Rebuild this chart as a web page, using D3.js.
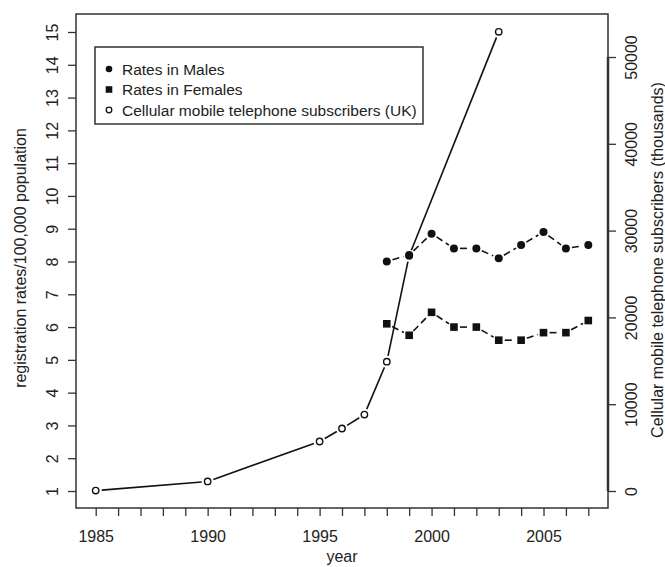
<!DOCTYPE html>
<html lang="en">
  <head>
    <meta charset="utf-8">
    <title>Registration rates and mobile subscribers</title>
    <script src="https://cdn.jsdelivr.net/npm/d3@7"></script>
    <style>
      body { margin: 0; background: #fff; }
      text { font-family: "Liberation Sans", Arial, sans-serif; fill: #222; }
    </style>
  </head>
  <body>
    <script>
      var w = 665;
      var h = 567;

      // data (1999 subscriber point sits under the males marker)
      var subYears = [1985, 1990, 1995, 1996, 1997, 1998, 1999, 2003];
      var subscribers = [50, 1100, 5700, 7200, 8800, 14900, 27100, 52900];
      var rateYears = [1998, 1999, 2000, 2001, 2002, 2003, 2004, 2005, 2006, 2007];
      var males = [8.0, 8.2, 8.85, 8.4, 8.4, 8.1, 8.5, 8.9, 8.4, 8.5];
      var females = [6.1, 5.75, 6.45, 6.0, 6.0, 5.6, 5.6, 5.83, 5.83, 6.2];

      var yearTicks = d3.range(1985, 2008);
      var yearLabels = [1985, 1990, 1995, 2000, 2005];
      var leftTicks = d3.range(1, 16);
      var rightTicks = [0, 10000, 20000, 30000, 40000, 50000];
      var legendLabels = ["Rates in Males", "Rates in Females", "Cellular mobile telephone subscribers (UK)"];

      var frame = { left: 76, right: 608, top: 14, bottom: 508 };
      var ink = "#333";

      var xScale = d3.scaleLinear().domain([1984.12, 2007.88]).range([frame.left, frame.right]);
      var yScale = d3.scaleLinear().domain([1, 15]).range([491, 32]);
      var y2Scale = d3.scaleLinear().domain([0, 50000]).range([491, 57]);

      var svg = d3.select("body").append("svg")
                  .attr("width", w)
                  .attr("height", h);

      // frame
      svg.append("rect")
         .attr("x", frame.left).attr("y", frame.top)
         .attr("width", frame.right - frame.left)
         .attr("height", frame.bottom - frame.top)
         .attr("fill", "none")
         .attr("stroke", ink)
         .attr("stroke-width", 1.5);

      // bottom axis
      var xAxis = d3.axisBottom(xScale)
                    .tickValues(yearTicks)
                    .tickSize(8)
                    .tickSizeOuter(0)
                    .tickFormat(function (d) { return yearLabels.indexOf(d) >= 0 ? d : ""; });
      var gx = svg.append("g")
         .attr("transform", "translate(0," + frame.bottom + ")")
         .call(xAxis);
      gx.select(".domain").remove();
      gx.selectAll("line").attr("stroke", ink).attr("stroke-width", 1.3);
      gx.selectAll("text").attr("font-size", "16px").attr("dy", null).attr("y", 34);

      // left axis
      var yAxis = d3.axisLeft(yScale).tickValues(leftTicks).tickSize(8).tickSizeOuter(0);
      var gy = svg.append("g")
         .attr("transform", "translate(" + frame.left + ",0)")
         .call(yAxis);
      gy.select(".domain").remove();
      gy.selectAll("line").attr("stroke", ink).attr("stroke-width", 1.3);
      gy.selectAll("text")
        .attr("font-size", "16px")
        .attr("x", null).attr("dy", null)
        .attr("text-anchor", "middle")
        .attr("transform", "translate(-24,0) rotate(-90)")
        .attr("dominant-baseline", "central");

      // right axis
      var y2Axis = d3.axisRight(y2Scale)
                     .tickValues(rightTicks)
                     .tickSize(8)
                     .tickSizeOuter(0)
                     .tickFormat(d3.format("d"));
      var gy2 = svg.append("g")
         .attr("transform", "translate(" + frame.right + ",0)")
         .call(y2Axis);
      gy2.select(".domain").remove();
      gy2.append("line")
         .attr("y1", y2Scale(0)).attr("y2", y2Scale(50000))
         .attr("stroke", ink).attr("stroke-width", 2.5);
      gy2.selectAll("line").attr("stroke", ink);
      gy2.selectAll(".tick line").attr("stroke-width", 1.3);
      gy2.selectAll("text")
        .attr("font-size", "16px")
        .attr("x", null).attr("dy", null)
        .attr("text-anchor", "middle")
        .attr("transform", "translate(23,0) rotate(-90)")
        .attr("dominant-baseline", "central");

      // axis titles
      svg.append("text")
         .attr("x", (frame.left + frame.right) / 2).attr("y", 562)
         .attr("text-anchor", "middle").attr("font-size", "16px")
         .text("year");
      svg.append("text")
         .attr("transform", "translate(20,258) rotate(-90)")
         .attr("text-anchor", "middle").attr("dominant-baseline", "central")
         .attr("font-size", "16px")
         .text("registration rates/100,000 population");
      svg.append("text")
         .attr("transform", "translate(657,260) rotate(-90)")
         .attr("text-anchor", "middle").attr("dominant-baseline", "central")
         .attr("font-size", "16px")
         .text("Cellular mobile telephone subscribers (thousands)");

      // lines drawn R "type b" style: segments that stop short of the points
      var gap = 6;
      var drawSegments = function (xs, ys, yS, dash) {
        var pts = xs.map(function (d, i) { return [xScale(d), yS(ys[i])]; });
        var segs = [];
        for (var i = 0; i < pts.length - 1; i++) {
          var a = pts[i], b = pts[i + 1];
          var dx = b[0] - a[0], dy = b[1] - a[1];
          var len = Math.sqrt(dx * dx + dy * dy);
          if (len <= 2 * gap) continue;
          var ux = dx / len, uy = dy / len;
          segs.push([a[0] + ux * gap, a[1] + uy * gap, b[0] - ux * gap, b[1] - uy * gap]);
        }
        svg.append("g").selectAll("line")
           .data(segs)
           .enter()
           .append("line")
           .attr("x1", function (d) { return d[0]; })
           .attr("y1", function (d) { return d[1]; })
           .attr("x2", function (d) { return d[2]; })
           .attr("y2", function (d) { return d[3]; })
           .attr("stroke", "#111")
           .attr("stroke-width", 1.6)
           .attr("stroke-dasharray", dash);
      };

      drawSegments(subYears, subscribers, y2Scale, null);
      drawSegments(rateYears, males, yScale, "7,4");
      drawSegments(rateYears, females, yScale, "7,4");

      // points
      svg.append("g").selectAll("circle")
         .data(subYears)
         .enter()
         .append("circle")
         .attr("cx", function (d) { return xScale(d); })
         .attr("cy", function (d, i) { return y2Scale(subscribers[i]); })
         .attr("r", 3.2)
         .attr("fill", "#fff")
         .attr("stroke", "#111")
         .attr("stroke-width", 1.4);

      svg.append("g").selectAll("circle")
         .data(rateYears)
         .enter()
         .append("circle")
         .attr("cx", function (d) { return xScale(d); })
         .attr("cy", function (d, i) { return yScale(males[i]); })
         .attr("r", 4)
         .attr("fill", "#111");

      svg.append("g").selectAll("rect")
         .data(rateYears)
         .enter()
         .append("rect")
         .attr("x", function (d) { return xScale(d) - 3.8; })
         .attr("y", function (d, i) { return yScale(females[i]) - 3.8; })
         .attr("width", 7.6)
         .attr("height", 7.6)
         .attr("fill", "#111");

      // legend
      var lg = svg.append("g");
      lg.append("rect")
        .attr("x", 95).attr("y", 47)
        .attr("width", 328).attr("height", 77)
        .attr("fill", "#fff")
        .attr("stroke", ink)
        .attr("stroke-width", 1.5);
      var rowY = [69, 89.5, 110];
      lg.append("circle").attr("cx", 109).attr("cy", rowY[0]).attr("r", 3.3).attr("fill", "#111");
      lg.append("rect").attr("x", 105.7).attr("y", rowY[1] - 3.3).attr("width", 6.6).attr("height", 6.6).attr("fill", "#111");
      lg.append("circle").attr("cx", 109).attr("cy", rowY[2]).attr("r", 2.8)
        .attr("fill", "#fff").attr("stroke", "#111").attr("stroke-width", 1.3);
      lg.selectAll("text.lab")
        .data(legendLabels)
        .enter()
        .append("text")
        .attr("class", "lab")
        .attr("x", 122)
        .attr("y", function (d, i) { return rowY[i]; })
        .attr("dominant-baseline", "central")
        .attr("font-size", "15.5px")
        .text(function (d) { return d; });
    </script>
  </body>
</html>
